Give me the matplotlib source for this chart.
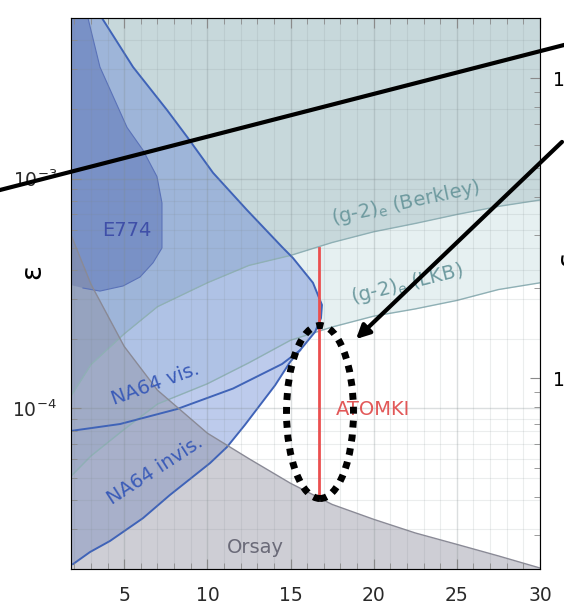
import numpy as np
import matplotlib
matplotlib.use('Agg')
import matplotlib.pyplot as plt
from matplotlib.patches import Ellipse, FancyArrowPatch
from matplotlib.lines import Line2D
from matplotlib.ticker import LogLocator, MultipleLocator, NullFormatter

# --- data (mass in MeV, epsilon) ---
mass = [1.8, 3, 5, 7, 10, 12.5, 15, 17.5, 20, 22.5, 25, 27.5, 30]
berkley_eps = [1.13e-4, 1.55e-4, 2.11e-4, 2.77e-4, 3.52e-4, 4.19e-4, 4.63e-4,
               5.27e-4, 5.87e-4, 6.38e-4, 6.98e-4, 7.57e-4, 8.07e-4]
lkb_eps = [5.07e-5, 6.21e-5, 8.11e-5, 1.045e-4, 1.28e-4, 1.58e-4, 1.98e-4,
           2.26e-4, 2.52e-4, 2.71e-4, 2.95e-4, 3.29e-4, 3.52e-4]
orsay_eps = [5.69e-4, 3.47e-4, 1.86e-4, 1.2e-4, 7.8e-5, 6.04e-5, 4.72e-5,
             3.82e-5, 3.29e-5, 2.87e-5, 2.56e-5, 2.28e-5, 2.02e-5]

# NA64 contour: upper edge, nose, then the steep lower edge back to the left
na64_m = [1.8, 3.66, 5.53, 7.57, 8.78, 10.34, 12.38, 14.49, 15.15, 16.35, 16.89,
          16.83, 16.47, 15.57, 14.97, 14.07, 13.17, 12.26, 11.18, 10.16, 8.96,
          7.75, 6.13, 4.15, 2.94, 1.92, 1.8]
na64_eps = [5e-3, 5e-3, 3.06e-3, 1.99e-3, 1.52e-3, 1.06e-3, 7.3e-4, 5.04e-4,
            4.51e-4, 3.52e-4, 2.82e-4, 2.47e-4, 2.15e-4, 1.79e-4, 1.59e-4, 1.26e-4,
            1.035e-4, 8.48e-5, 6.79e-5, 5.78e-5, 4.93e-5, 4.2e-5, 3.33e-5, 2.65e-5,
            2.37e-5, 2.1e-5, 2.1e-5]

na64_inner_m = [1.8, 4.75, 8.17, 11.54, 14.49, 15.57]
na64_inner_eps = [7.98e-5, 8.55e-5, 9.93e-5, 1.22e-4, 1.56e-4, 1.79e-4]

e774_m = [1.8, 2.82, 3.54, 5.17, 6.13, 6.97, 7.27, 7.27, 6.73, 5.95, 4.93, 3.54, 2.52, 1.8]
e774_eps = [5e-3, 5e-3, 3.06e-3, 1.67e-3, 1.33e-3, 1.02e-3, 7.83e-4, 4.99e-4,
            4.3e-4, 3.73e-4, 3.41e-4, 3.24e-4, 3.34e-4, 3.44e-4]

atomki_m = 16.7
atomki_eps = [4.1e-5, 5.0e-4]

xlim = (1.8, 30)
ylim = (2e-5, 5e-3)

fig = plt.figure(figsize=(5.64, 6.13), dpi=100)
ax = fig.add_axes([71/564, 1-569/613, 469/564, 551/613])
ax.set_yscale('log')
ax.set_xlim(*xlim)
ax.set_ylim(*ylim)

# shaded regions
ax.fill_between(mass, berkley_eps, ylim[1], color='#c7d8db', lw=0)
ax.fill_between(mass, lkb_eps, berkley_eps, color='#e6f0f1', lw=0)
ax.plot(mass, berkley_eps, color='#8fb0b5', lw=1)
ax.plot(mass, lkb_eps, color='#8fb0b5', lw=1)

ax.fill(na64_m, na64_eps, color='#6e8cd7', alpha=0.45, lw=0)
ax.plot(na64_m[1:-1], na64_eps[1:-1], color='#3f63b8', lw=1.4)
ax.plot(na64_inner_m, na64_inner_eps, color='#3f63b8', lw=1.4)

ax.fill(e774_m, e774_eps, color='#4e66b0', alpha=0.45, lw=0)
ax.plot(e774_m[1:-1], e774_eps[1:-1], color='#5a72b8', lw=0.8)

ax.fill_between(mass, ylim[0], orsay_eps, color='#8c8c9c', alpha=0.42, lw=0)
ax.plot(mass, orsay_eps, color='#8a8a96', lw=1)

ax.plot([atomki_m, atomki_m], atomki_eps, color='#eb4f4f', lw=2)

# grid over the fills
ax.xaxis.set_major_locator(MultipleLocator(5))
ax.xaxis.set_minor_locator(MultipleLocator(1))
ax.yaxis.set_major_locator(LogLocator(10))
ax.yaxis.set_minor_locator(LogLocator(10, subs=np.arange(2, 10)))
ax.yaxis.set_minor_formatter(NullFormatter())
ax.set_axisbelow(False)
ax.grid(which='major', color='#7f8a8c', alpha=0.28, lw=1)
ax.grid(which='minor', color='#7f8a8c', alpha=0.15, lw=0.8)

for s in ax.spines.values():
    s.set_color('#8a8a8a')
ax.tick_params(which='both', direction='in', top=True, right=False,
               color='#8a8a8a', labelsize=13.5, labelcolor='#2a2a2a')
ax.tick_params(axis='x', which='major', pad=12)
ax.tick_params(axis='y', which='major', pad=10)
ax.tick_params(which='major', length=7)
ax.tick_params(which='minor', length=4)
ax.set_ylabel('ε', fontsize=20)
ax.yaxis.set_label_coords(-0.053, 0.54)

# labels
ax.text(5.17, 5.97e-4, 'E774', color='#3f4fa8', fontsize=14, ha='center', va='center')
ax.text(21.9, 7.8e-4, r'(g-2)$_\mathregular{e}$ (Berkley)', color='#6e9a9f',
        fontsize=14, ha='center', va='center', rotation=12)
ax.text(22.0, 3.47e-4, r'(g-2)$_\mathregular{e}$ (LKB)', color='#6e9a9f',
        fontsize=14, ha='center', va='center', rotation=14)
ax.text(6.85, 1.28e-4, 'NA64 vis.', color='#3b5cb8', fontsize=14,
        ha='center', va='center', rotation=20)
ax.text(6.85, 5.35e-5, 'NA64 invis.', color='#3b5cb8', fontsize=14,
        ha='center', va='center', rotation=33)
ax.text(12.9, 2.47e-5, 'Orsay', color='#6a6a78', fontsize=14, ha='center', va='center')
ax.text(17.7, 9.85e-5, 'ATOMKI', color='#e25858', fontsize=14, ha='left', va='center')

# right side: ticks of a neighbouring panel
ax2 = ax.twinx()
ax2.set_yscale('log')
ax2.set_ylim(10**-4.637, 10**-2.8)
ax2.tick_params(which='both', direction='in', color='#8a8a8a', labelsize=13.5, pad=9)
ax2.tick_params(which='major', length=7)
ax2.tick_params(which='minor', length=4)
ax2.yaxis.set_minor_formatter(NullFormatter())
fig.text(0.982, 1-258/613, 'ε', fontsize=20, rotation=90, ha='left', va='center')

# hand-drawn overlay
fig.add_artist(Line2D([0, 1], [1-190/613, 1-45/613], transform=fig.transFigure,
                      color='black', lw=3))
fig.add_artist(FancyArrowPatch((1.0, 1-140/613), (354/564, 1-341/613),
                               transform=fig.transFigure, arrowstyle='-|>',
                               mutation_scale=20, color='black', lw=3))
fig.add_artist(Ellipse((320/564, 1-412/613), 67/564, 173/613, transform=fig.transFigure,
                       fill=False, edgecolor='black', lw=5, linestyle=(0, (1, 1))))

fig.savefig('out.png', dpi=100)
